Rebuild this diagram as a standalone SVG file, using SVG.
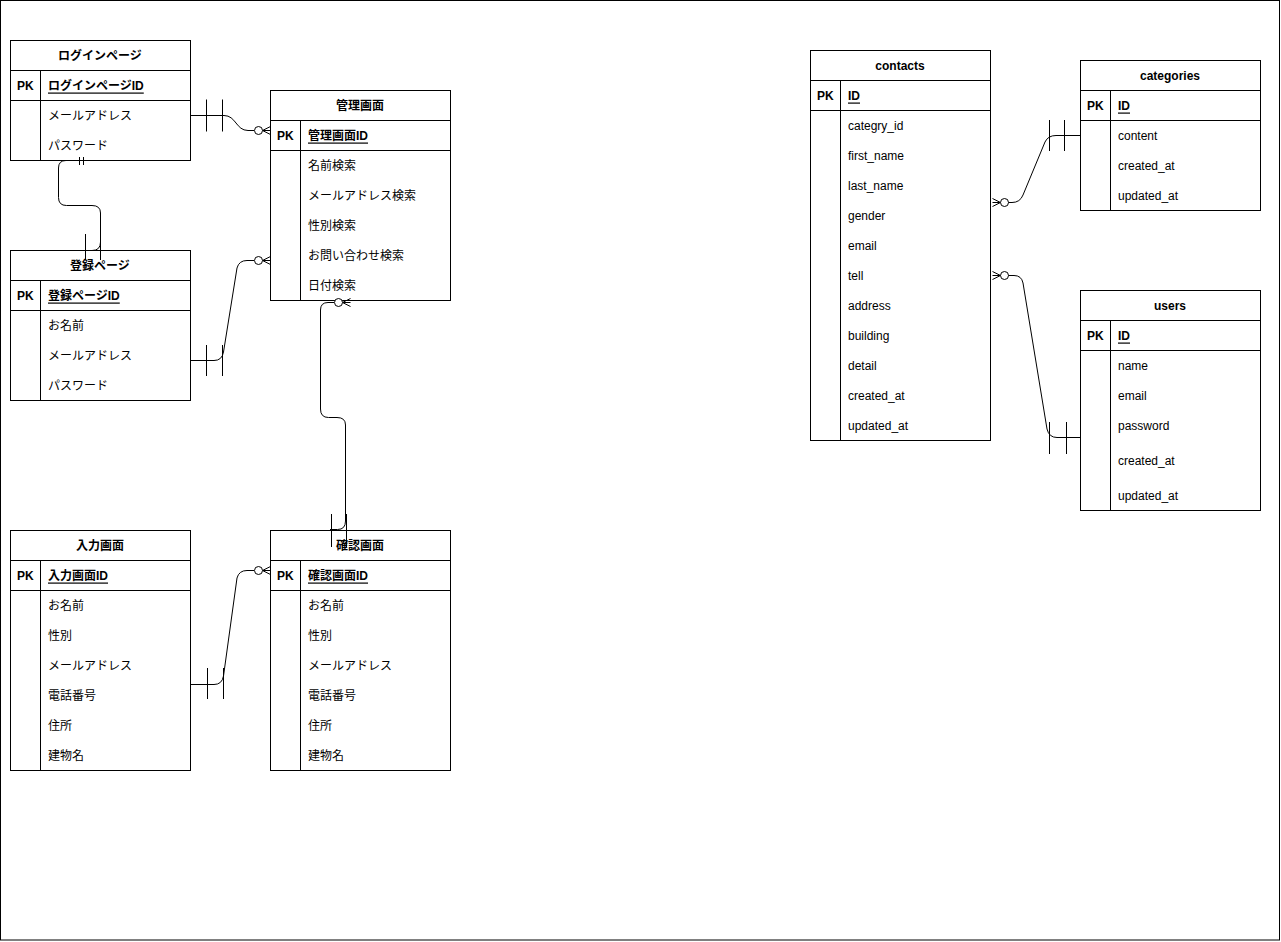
<svg xmlns="http://www.w3.org/2000/svg" xmlns:xlink="http://www.w3.org/1999/xlink" width="1281" height="942" viewBox="0 0 1281 942">
<style>
  .box{fill:#fff;stroke:#000;stroke-width:1}
  .ln{stroke:#000;stroke-width:1;fill:none}
  text{font-family:"Liberation Sans","Noto Sans CJK JP",Arial,sans-serif;font-size:12px;fill:#000;dominant-baseline:central}
  .hd{font-weight:bold;text-anchor:middle}
  .pk{font-weight:bold}
  .pkf{font-weight:bold;text-decoration:underline}
  .cn{stroke:#000;stroke-width:1;fill:none}
  .mk{stroke:#000;stroke-width:1;fill:#fff}
</style>
<defs>
  <g id="zeroMany">
    <path class="cn" d="M-8,0 L0,-4 M-8,0 L0,0 M-8,0 L0,4"/>
    <circle class="mk" cx="-12" cy="0" r="4"/>
  </g>
</defs>
<rect x="0.5" y="0.5" width="1279" height="939.5" fill="#fff" stroke="#000" stroke-width="1"/>

<g id="n-login">
  <rect class="box" x="10.5" y="40.5" width="180" height="120"/>
  <path class="ln" d="M10.5,70.5H190.5M10.5,100.5H190.5M40.5,70.5V160.5"/>
  <text class="hd" x="100" y="55.5">ログインページ</text>
  <text class="pk" x="17" y="85.5">PK</text>
  <text class="pkf" x="48" y="85.5">ログインページID</text>
  <text x="48" y="115.5">メールアドレス</text>
  <text x="48" y="145.5">パスワード</text>
</g>

<g id="n-admin">
  <rect class="box" x="270.5" y="90.5" width="180" height="210"/>
  <path class="ln" d="M270.5,120.5H450.5M270.5,150.5H450.5M300.5,120.5V300.5"/>
  <text class="hd" x="360" y="105.5">管理画面</text>
  <text class="pk" x="277" y="135.5">PK</text>
  <text class="pkf" x="308" y="135.5">管理画面ID</text>
  <text x="308" y="165.5">名前検索</text>
  <text x="308" y="195.5">メールアドレス検索</text>
  <text x="308" y="225.5">性別検索</text>
  <text x="308" y="255.5">お問い合わせ検索</text>
  <text x="308" y="285.5">日付検索</text>
</g>

<g id="n-register">
  <rect class="box" x="10.5" y="250.5" width="180" height="150"/>
  <path class="ln" d="M10.5,280.5H190.5M10.5,310.5H190.5M40.5,280.5V400.5"/>
  <text class="hd" x="100" y="265.5">登録ページ</text>
  <text class="pk" x="17" y="295.5">PK</text>
  <text class="pkf" x="48" y="295.5">登録ページID</text>
  <text x="48" y="325.5">お名前</text>
  <text x="48" y="355.5">メールアドレス</text>
  <text x="48" y="385.5">パスワード</text>
</g>

<g id="n-input">
  <rect class="box" x="10.5" y="530.5" width="180" height="240"/>
  <path class="ln" d="M10.5,560.5H190.5M10.5,590.5H190.5M40.5,560.5V770.5"/>
  <text class="hd" x="100" y="545.5">入力画面</text>
  <text class="pk" x="17" y="575.5">PK</text>
  <text class="pkf" x="48" y="575.5">入力画面ID</text>
  <text x="48" y="605.5">お名前</text>
  <text x="48" y="635.5">性別</text>
  <text x="48" y="665.5">メールアドレス</text>
  <text x="48" y="695.5">電話番号</text>
  <text x="48" y="725.5">住所</text>
  <text x="48" y="755.5">建物名</text>
</g>

<g id="n-confirm">
  <rect class="box" x="270.5" y="530.5" width="180" height="240"/>
  <path class="ln" d="M270.5,560.5H450.5M270.5,590.5H450.5M300.5,560.5V770.5"/>
  <text class="hd" x="360" y="545.5">確認画面</text>
  <text class="pk" x="277" y="575.5">PK</text>
  <text class="pkf" x="308" y="575.5">確認画面ID</text>
  <text x="308" y="605.5">お名前</text>
  <text x="308" y="635.5">性別</text>
  <text x="308" y="665.5">メールアドレス</text>
  <text x="308" y="695.5">電話番号</text>
  <text x="308" y="725.5">住所</text>
  <text x="308" y="755.5">建物名</text>
</g>

<g id="n-contacts">
  <rect class="box" x="810.5" y="50.5" width="180" height="390"/>
  <path class="ln" d="M810.5,80.5H990.5M810.5,110.5H990.5M840.5,80.5V440.5"/>
  <text class="hd" x="900" y="65.5">contacts</text>
  <text class="pk" x="817" y="95.5">PK</text>
  <text class="pkf" x="848" y="95.5">ID</text>
  <text x="848" y="125.5">categry_id</text>
  <text x="848" y="155.5">first_name</text>
  <text x="848" y="185.5">last_name</text>
  <text x="848" y="215.5">gender</text>
  <text x="848" y="245.5">email</text>
  <text x="848" y="275.5">tell</text>
  <text x="848" y="305.5">address</text>
  <text x="848" y="335.5">building</text>
  <text x="848" y="365.5">detail</text>
  <text x="848" y="395.5">created_at</text>
  <text x="848" y="425.5">updated_at</text>
</g>

<g id="n-categories">
  <rect class="box" x="1080.5" y="60.5" width="180" height="150"/>
  <path class="ln" d="M1080.5,90.5H1260.5M1080.5,120.5H1260.5M1110.5,90.5V210.5"/>
  <text class="hd" x="1170" y="75.5">categories</text>
  <text class="pk" x="1087" y="105.5">PK</text>
  <text class="pkf" x="1118" y="105.5">ID</text>
  <text x="1118" y="135.5">content</text>
  <text x="1118" y="165.5">created_at</text>
  <text x="1118" y="195.5">updated_at</text>
</g>

<g id="n-users">
  <rect class="box" x="1080.5" y="290.5" width="180" height="220"/>
  <path class="ln" d="M1080.5,320.5H1260.5M1080.5,350.5H1260.5M1110.5,320.5V510.5"/>
  <text class="hd" x="1170" y="305.5">users</text>
  <text class="pk" x="1087" y="335.5">PK</text>
  <text class="pkf" x="1118" y="335.5">ID</text>
  <text x="1118" y="365.5">name</text>
  <text x="1118" y="395.5">email</text>
  <text x="1118" y="425.5">password</text>
  <text x="1118" y="460.5">created_at</text>
  <text x="1118" y="495.5">updated_at</text>
</g>

<g id="connectors">
  <!-- login -> admin -->
  <path class="cn" d="M190.5,115.5H224C236,115.5 236,130.5 248,130.5H254"/>
  <path class="cn" d="M206.5,99.5V131.5M222.5,99.5V131.5"/>
  <use xlink:href="#zeroMany" href="#zeroMany" transform="translate(270.5,130.5)"/>

  <!-- login -> register -->
  <path class="cn" d="M88,160.5H66Q58.5,160.5 58.5,168V197.5Q58.5,205.5 66.5,205.5H92Q100.5,205.5 100.5,213V242Q100.5,250.5 92,250.5H68"/>
  <path class="cn" d="M79.5,157V165M83.5,157V165"/>
  <path class="cn" d="M85.5,234V260M100.5,234V260"/>

  <!-- register -> admin -->
  <path class="cn" d="M190.5,360.5H214Q222,360.5 223.5,352L237,268Q239,260.5 247,260.5H254"/>
  <path class="cn" d="M206.5,345V376M222.5,345V376"/>
  <use xlink:href="#zeroMany" href="#zeroMany" transform="translate(270.5,260.5)"/>

  <!-- admin -> confirm -->
  <path class="cn" d="M334,302.5H328Q320.5,302.5 320.5,310V409Q320.5,417.5 328.5,417.5H337Q345.5,417.5 345.5,425V521Q345.5,529.5 337.5,529.5H330"/>
  <path class="cn" d="M331.5,514V547M346.5,514V547"/>
  <use xlink:href="#zeroMany" href="#zeroMany" transform="translate(350.5,302.5)"/>

  <!-- input -> confirm -->
  <path class="cn" d="M190.5,684.5H214Q222,684.5 223.5,676L237,578Q239,570.5 247,570.5H254"/>
  <path class="cn" d="M207.5,668V699M223.5,668V699"/>
  <use xlink:href="#zeroMany" href="#zeroMany" transform="translate(270.5,570.5)"/>

  <!-- contacts -> categories -->
  <path class="cn" d="M1007,202.5H1012Q1020,202.5 1023,195L1045,142Q1048,135.5 1056,135.5H1080.5"/>
  <path class="cn" d="M1049.5,120V151M1064.5,120V151"/>
  <use xlink:href="#zeroMany" href="#zeroMany" transform="translate(992.5,202.5) scale(-1,1)"/>

  <!-- contacts -> users -->
  <path class="cn" d="M1007,275.5H1014Q1021.5,275.5 1023,283L1047,429Q1049,437.5 1057,437.5H1080.5"/>
  <path class="cn" d="M1049.5,422V454M1066.5,422V454"/>
  <use xlink:href="#zeroMany" href="#zeroMany" transform="translate(992.5,275.5) scale(-1,1)"/>
</g>
</svg>
